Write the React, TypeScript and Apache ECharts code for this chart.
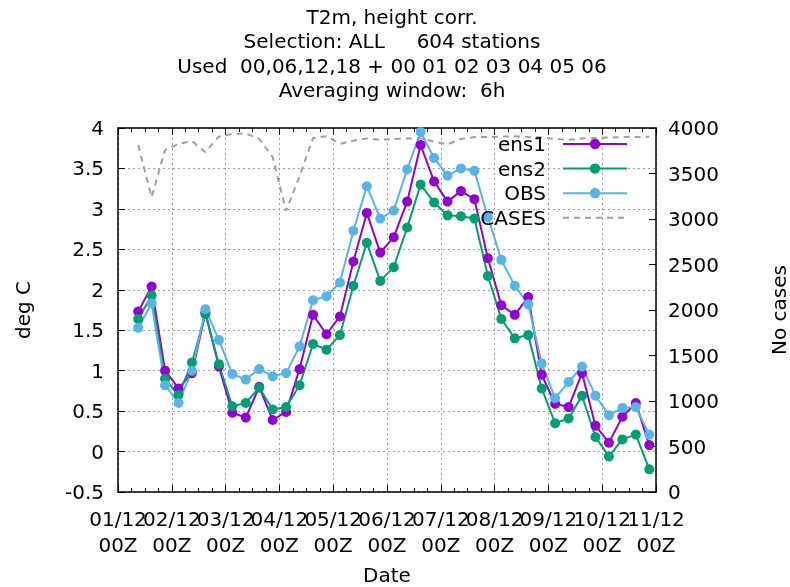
import React, { useEffect, useRef } from "react";
import * as echarts from "echarts";

// time of each point, hours after 01/12 00Z
const hours = [9, 15, 21, 27, 33, 39, 45, 51, 57, 63, 69, 75, 81, 87, 93, 99, 105, 111, 117, 123, 129, 135, 141, 147, 153, 159, 165, 171, 177, 183, 189, 195, 201, 207, 213, 219, 225, 231, 237];

const ens1 = [1.73, 2.04, 1.0, 0.78, 0.97, 1.72, 1.05, 0.48, 0.42, 0.8, 0.39, 0.49, 1.02, 1.69, 1.45, 1.67, 2.35, 2.95, 2.46, 2.65, 3.09, 3.79, 3.34, 3.09, 3.22, 3.12, 2.39, 1.81, 1.69, 1.91, 0.95, 0.59, 0.55, 0.97, 0.32, 0.11, 0.43, 0.6, 0.08];
const ens2 = [1.64, 1.93, 0.9, 0.7, 1.1, 1.7, 1.08, 0.56, 0.6, 0.79, 0.52, 0.55, 0.82, 1.33, 1.26, 1.44, 2.05, 2.58, 2.11, 2.28, 2.77, 3.3, 3.08, 2.92, 2.91, 2.88, 2.17, 1.64, 1.4, 1.44, 0.78, 0.35, 0.41, 0.69, 0.18, -0.06, 0.15, 0.21, -0.22];
const obs = [1.53, 1.83, 0.82, 0.6, 1.0, 1.76, 1.38, 0.96, 0.89, 1.02, 0.93, 0.97, 1.3, 1.87, 1.92, 2.09, 2.73, 3.28, 2.88, 2.98, 3.49, 3.95, 3.63, 3.41, 3.5, 3.47, 2.9, 2.37, 2.05, 1.82, 1.09, 0.66, 0.86, 1.05, 0.69, 0.45, 0.54, 0.55, 0.21];
const cases = [3813, 3240, 3758, 3825, 3855, 3736, 3905, 3935, 3940, 3880, 3680, 3090, 3470, 3890, 3910, 3825, 3860, 3886, 3870, 3880, 3885, 3886, 3850, 3820, 3880, 3900, 3900, 3905, 3910, 3900, 3895, 3880, 3870, 3885, 3890, 3895, 3900, 3900, 3905];

const xTickLabels = ["01/12\n00Z", "02/12\n00Z", "03/12\n00Z", "04/12\n00Z", "05/12\n00Z", "06/12\n00Z", "07/12\n00Z", "08/12\n00Z", "09/12\n00Z", "10/12\n00Z", "11/12\n00Z"];

const titleLines = ["T2m, height corr.", "Selection: ALL     604 stations", "Used  00,06,12,18 + 00 01 02 03 04 05 06", "Averaging window:  6h"];

const FONT = "DejaVu Sans";
const FS = 20;
const X_MIN = 0;
const X_MAX = 240;

export default function App() {
  const ref = useRef<HTMLDivElement>(null);
  useEffect(() => {
    document.body.style.margin = "0";
    const chart = echarts.init(ref.current!, null, { renderer: "svg" });
    const pair = (ys: number[]) => hours.map((h, i) => [h, ys[i]]);
    const grid = { color: "#a0a0a0", width: 1, type: [2, 3] as number[] };
    const tickLabel = (v: number) => xTickLabels[Math.round(v / 24)] ?? "";
    const labelStyle = { fontFamily: FONT, fontSize: FS, color: "#000", lineHeight: 26, margin: 14, hideOverlap: false };
    const lineSeries = (name: string, data: number[], color: string) => ({
      name,
      type: "line",
      data: pair(data),
      xAxisIndex: 0,
      yAxisIndex: 0,
      symbol: "circle",
      symbolSize: 10,
      lineStyle: { color, width: 2 },
      itemStyle: { color },
      emphasis: { disabled: true },
    });
    chart.setOption({
      animation: false,
      textStyle: { fontFamily: FONT, color: "#000" },
      title: {
        text: titleLines.join("\n"),
        left: 387,
        textAlign: "center",
        top: 0,
        textStyle: { fontFamily: FONT, fontSize: FS, fontWeight: "normal", color: "#000", lineHeight: 24.3 },
      },
      legend: {
        orient: "vertical",
        align: "right",
        right: 162,
        top: 134,
        padding: 0,
        itemWidth: 64,
        itemHeight: 13,
        itemGap: 4.6,
        textStyle: { fontFamily: FONT, fontSize: FS, color: "#000", lineHeight: 20, padding: [0, 12, 0, 0] },
        data: ["ens1", "ens2", "OBS", { name: "CASES", itemStyle: { opacity: 0 } }],
      },
      grid: { left: 118, right: 134, top: 128, bottom: 95, outerBoundsMode: "none", containLabel: false },
      xAxis: [
        {
          type: "value",
          position: "bottom",
          min: X_MIN,
          max: X_MAX,
          interval: 24,
          name: "Date",
          nameLocation: "middle",
          nameGap: 73,
          nameTextStyle: { fontFamily: FONT, fontSize: FS, color: "#000" },
          axisLine: { show: true, onZero: false, lineStyle: { color: "#000", width: 1.5 } },
          axisTick: { show: true, inside: true, length: 7, lineStyle: { color: "#000", width: 1 } },
          minorTick: { show: true, splitNumber: 4, length: 4, lineStyle: { color: "#000", width: 1 } },
          axisLabel: { ...labelStyle, showMinLabel: false, showMaxLabel: false, formatter: tickLabel },
          splitLine: { show: true, lineStyle: grid },
        },
        {
          type: "value",
          position: "top",
          min: X_MIN,
          max: X_MAX,
          interval: 24,
          axisLine: { show: true, onZero: false, lineStyle: { color: "#000", width: 1.5 } },
          axisTick: { show: true, inside: true, length: 7, lineStyle: { color: "#000", width: 1 } },
          minorTick: { show: true, splitNumber: 4, length: 4, lineStyle: { color: "#000", width: 1 } },
          axisLabel: { show: false },
          splitLine: { show: false },
        },
        {
          type: "value",
          position: "bottom",
          min: X_MIN,
          max: X_MAX,
          interval: 24,
          axisLine: { show: false, onZero: false },
          axisTick: { show: false },
          minorTick: { show: false },
          axisLabel: {
            ...labelStyle,
            showMinLabel: true,
            showMaxLabel: true,
            formatter: (v: number) => (v === X_MIN || v === X_MAX ? tickLabel(v) : ""),
          },
          splitLine: { show: false },
        },
      ],
      yAxis: [
        {
          type: "value",
          min: -0.5,
          max: 4,
          interval: 0.5,
          name: "deg C",
          nameLocation: "middle",
          nameRotate: 90,
          nameGap: 85,
          nameTextStyle: { fontFamily: FONT, fontSize: FS, color: "#000" },
          axisLine: { show: true, onZero: false, lineStyle: { color: "#000", width: 1.5 } },
          axisTick: { show: true, inside: true, length: 7, lineStyle: { color: "#000", width: 1 } },
          axisLabel: { fontFamily: FONT, fontSize: FS, color: "#000", margin: 14 },
          splitLine: { show: true, lineStyle: grid },
        },
        {
          type: "value",
          position: "right",
          min: 0,
          max: 4000,
          interval: 500,
          name: "No cases",
          nameLocation: "middle",
          nameRotate: 90,
          nameGap: 113,
          nameTextStyle: { fontFamily: FONT, fontSize: FS, color: "#000" },
          axisLine: { show: true, onZero: false, lineStyle: { color: "#000", width: 1.5 } },
          axisTick: { show: true, inside: true, length: 7, lineStyle: { color: "#000", width: 1 } },
          axisLabel: { fontFamily: FONT, fontSize: FS, color: "#000", margin: 12, formatter: (v: number) => String(v) },
          splitLine: { show: false },
        },
      ],
      series: [
        lineSeries("ens1", ens1, "#9400d3"),
        lineSeries("ens2", ens2, "#009e73"),
        lineSeries("OBS", obs, "#56b4e9"),
        {
          name: "CASES",
          type: "line",
          data: pair(cases),
          xAxisIndex: 0,
          yAxisIndex: 1,
          symbol: "none",
          showSymbol: false,
          lineStyle: { color: "#a0a0a0", width: 2, type: [6, 5] },
          itemStyle: { color: "#a0a0a0" },
          emphasis: { disabled: true },
        },
      ],
    });
    return () => chart.dispose();
  }, []);
  return <div ref={ref} style={{ position: "fixed", left: 0, top: 0, width: 790, height: 587 }} />;
}
